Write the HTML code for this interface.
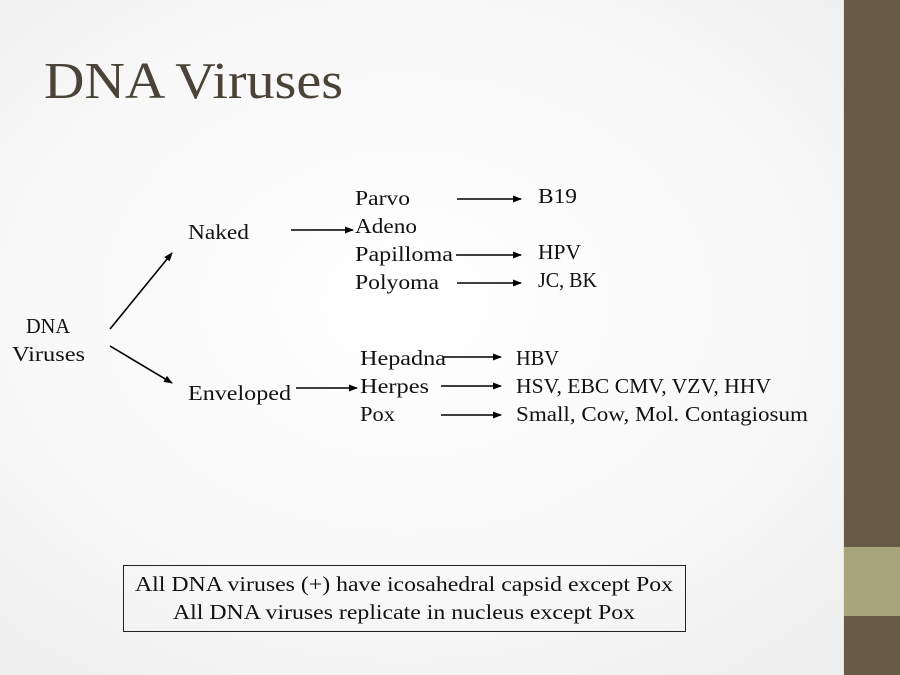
<!DOCTYPE html>
<html><head><style>
html,body{margin:0;padding:0;}
body{width:900px;height:675px;overflow:hidden;background:radial-gradient(ellipse at 45% 45%,#ffffff 0%,#f8f8f8 55%,#ececec 100%);}
</style></head><body>
<svg width="900" height="675" xmlns="http://www.w3.org/2000/svg" style="position:absolute;left:0;top:0">
<defs><marker id="a" markerWidth="9" markerHeight="8" refX="8" refY="4" orient="auto" markerUnits="userSpaceOnUse"><path d="M0,0.5 L9,4 L0,7.5 z" fill="#000"/></marker></defs>
<rect x="843" y="0" width="57" height="675" fill="#675b48"/>
<rect x="843" y="547" width="57" height="69" fill="#a8a47c"/>
<line x1="843.5" y1="0" x2="843.5" y2="675" stroke="#e8e6dc" stroke-width="1"/>
<g font-family="Liberation Serif, serif" fill="#111">
<text x="44" y="98" font-size="52" fill="#4a4438" textLength="299" lengthAdjust="spacingAndGlyphs">DNA Viruses</text>
<g font-size="21">
<text x="26" y="333" textLength="44" lengthAdjust="spacingAndGlyphs">DNA</text>
<text x="12" y="361" textLength="73" lengthAdjust="spacingAndGlyphs">Viruses</text>
<text x="188" y="239" textLength="61" lengthAdjust="spacingAndGlyphs">Naked</text>
<text x="188" y="400" textLength="103" lengthAdjust="spacingAndGlyphs">Enveloped</text>
<text x="355" y="205" textLength="55" lengthAdjust="spacingAndGlyphs">Parvo</text>
<text x="355" y="233" textLength="62" lengthAdjust="spacingAndGlyphs">Adeno</text>
<text x="355" y="261" textLength="98" lengthAdjust="spacingAndGlyphs">Papilloma</text>
<text x="355" y="289" textLength="84" lengthAdjust="spacingAndGlyphs">Polyoma</text>
<text x="538" y="203" textLength="39" lengthAdjust="spacingAndGlyphs">B19</text>
<text x="538" y="259" textLength="43" lengthAdjust="spacingAndGlyphs">HPV</text>
<text x="538" y="287" textLength="59" lengthAdjust="spacingAndGlyphs">JC, BK</text>
<text x="360" y="365" textLength="86" lengthAdjust="spacingAndGlyphs">Hepadna</text>
<text x="360" y="393" textLength="69" lengthAdjust="spacingAndGlyphs">Herpes</text>
<text x="360" y="421" textLength="35" lengthAdjust="spacingAndGlyphs">Pox</text>
<text x="516" y="365" textLength="43" lengthAdjust="spacingAndGlyphs">HBV</text>
<text x="516" y="393" textLength="255" lengthAdjust="spacingAndGlyphs">HSV, EBC CMV, VZV, HHV</text>
<text x="516" y="421" textLength="292" lengthAdjust="spacingAndGlyphs">Small, Cow, Mol. Contagiosum</text>
<text x="135" y="591" textLength="538" lengthAdjust="spacingAndGlyphs">All DNA viruses (+) have icosahedral capsid except Pox</text>
<text x="173" y="619" textLength="462" lengthAdjust="spacingAndGlyphs">All DNA viruses replicate in nucleus except Pox</text>
</g>
</g>
<g stroke="#000" stroke-width="1.6" marker-end="url(#a)">
<line x1="110" y1="329" x2="172" y2="253"/>
<line x1="110" y1="346" x2="172" y2="383"/>
<line x1="457" y1="199" x2="521" y2="199"/>
<line x1="291" y1="230" x2="353" y2="230"/>
<line x1="456" y1="255" x2="521" y2="255"/>
<line x1="457" y1="283" x2="521" y2="283"/>
<line x1="444" y1="357" x2="501" y2="357"/>
<line x1="296" y1="388" x2="357" y2="388"/>
<line x1="441" y1="386" x2="501" y2="386"/>
<line x1="441" y1="415" x2="501" y2="415"/>
</g>
<rect x="123.5" y="565.5" width="562" height="66" fill="none" stroke="#222" stroke-width="1"/>
</svg>
</body></html>
